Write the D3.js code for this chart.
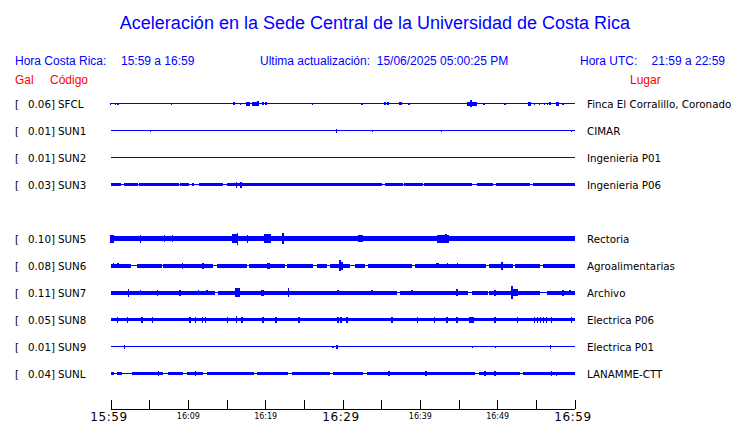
<!DOCTYPE html>
<html><head><meta charset="utf-8">
<script src="https://cdn.jsdelivr.net/npm/d3@7"></script>
<style>
html,body{margin:0;padding:0;background:#fff;}
svg{display:block;}
text{white-space:pre;}
</style></head>
<body>
<svg id="c" width="740" height="423"></svg>
<script>
// ---------------- DATA ----------------
const titleText = "Aceleración en la Sede Central de la Universidad de Costa Rica";
const localLabel = "Hora Costa Rica:";
const localRange = "15:59 a 16:59";
const updateText = "Ultima actualización:  15/06/2025 05:00:25 PM";
const utcLabel = "Hora UTC:";
const utcRange = "21:59 a 22:59";

// row slots (SUN4 has no trace)
const slots = ["SFCL","SUN1","SUN2","SUN3","SUN4","SUN5","SUN6","SUN7","SUN8","SUN9","SUNL"];
const codes = ["SFCL","SUN1","SUN2","SUN3","SUN5","SUN6","SUN7","SUN8","SUN9","SUNL"];
const peakGal = ["0.06","0.01","0.01","0.03","0.10","0.08","0.11","0.05","0.01","0.04"];
const places = ["Finca El Corralillo, Coronado","CIMAR","Ingenieria P01","Ingenieria P06","Rectoria","Agroalimentarias","Archivo","Electrica P06","Electrica P01","LANAMME-CTT"];

// background noise half-amplitude (Gal) per station
const noiseGal = [0, 0, 0, 0.023, 0.042, 0.03, 0.03, 0.027, 0, 0.025];

// quiet intervals [startMin, endMin] (minutes after 15:59)
const quietSFCL = [], quietSUN1 = [], quietSUN2 = [];
const quietSUN3 = [[1.4,1.8],[3.5,3.7],[8.8,9.0],[10.1,10.6],[10.8,11.5],[14.6,15.0],[35.1,35.5],[37.8,38.0],[40.4,40.5],[46.8,47.4],[49.4,49.9],[54.2,54.6]];
const quietSUN5 = [];
const quietSUN6 = [[2.7,3.4],[6.7,6.8],[13.2,13.8],[17.7,17.9],[22.6,22.8],[26.2,26.7],[28.0,28.4],[31.0,31.6],[32.9,33.3],[39.0,39.4],[48.6,49.0],[52.0,52.3],[55.5,55.9]];
const quietSUN7 = [[13.5,13.9],[37.0,37.4],[46.2,46.7],[48.8,49.0],[55.5,56.4]];
const quietSUN8 = [];
const quietSUN9 = [];
const quietSUNL = [[0.4,0.8],[1.5,2.8],[6.8,7.4],[9.4,9.9],[11.9,12.5],[18.5,19.0],[23.0,23.5],[28.4,28.8],[32.6,33.2],[47.1,47.7],[52.9,53.3]];

// bursts/spikes [minute, peak half-amplitude (Gal), duration (min)]
const burstSFCL = [[0,0.02,0],[0.65,0.02,0],[1.0,0.02,0],[7.9,0.015,0],[16.0,0.027,0.3],[16.8,0.02,0],[17.8,0.03,0.6],[18.7,0.035,0.7],[19.1,0.045,0],[19.7,0.025,0],[20.1,0.025,0],[26.1,0.015,0],[32.5,0.015,0],[35.5,0.025,0],[35.9,0.025,0],[37.5,0.025,0.3],[38.6,0.015,0],[46.6,0.06,0],[46.7,0.035,1.3],[48.3,0.015,0],[51.0,0.02,0],[54.2,0.03,0.3],[54.8,0.02,0],[55.5,0.02,0],[56.1,0.02,0],[56.5,0.02,0],[56.8,0.025,0.2],[57.8,0.03,0.3],[58.5,0.015,0]];
const burstSUN1 = [[5.2,0.015,0],[29.2,0.035,0],[33.9,0.015,0],[42.8,0.015,0],[59.6,0.02,0]];
const burstSUN2 = [];
const burstSUN3 = [[16.3,0.05,0],[16.9,0.05,0]];
const burstSUN5 = [[0.2,0.065,0.6],[3.9,0.07,0.2],[7.0,0.055,0.2],[8.0,0.055,0.2],[16.1,0.08,0.9],[16.4,0.1,0.2],[17.7,0.07,0.2],[20.3,0.08,0.8],[22.3,0.09,0.3],[32.3,0.055,0.6],[43.0,0.065,1.5],[43.4,0.08,0.2]];
const burstSUN6 = [[0.4,0.045,0.2],[1.0,0.04,0],[9.3,0.05,0],[12.0,0.05,0.3],[20.4,0.05,0.4],[29.7,0.09,0.25],[29.9,0.065,0.4],[42.3,0.04,0.3],[43.6,0.04,0],[44.9,0.04,0],[50.6,0.065,0.3]];
const burstSUN7 = [[2.3,0.065,0],[3.9,0.045,0],[6.1,0.05,0.2],[9.0,0.05,0],[11.4,0.045,0],[12.5,0.045,0],[16.4,0.075,0.6],[19.6,0.05,0.4],[23.0,0.08,0],[29.4,0.045,0],[33.8,0.04,0],[39.0,0.045,0],[44.8,0.055,0.3],[49.7,0.05,0],[51.9,0.11,0],[52.4,0.055,0.6],[58.5,0.05,0],[59.4,0.045,0]];
const burstSUN8 = [[0.9,0.05,0],[2.2,0.05,0],[4.1,0.05,0],[5.4,0.05,0],[10.3,0.05,0],[11.0,0.05,0],[11.9,0.05,0],[12.3,0.05,0],[15.1,0.05,0],[16.3,0.06,0],[17.0,0.05,0],[19.7,0.05,0],[21.4,0.05,0],[24.4,0.05,0],[29.4,0.05,0],[29.8,0.05,0],[30.6,0.05,0],[36.4,0.05,0],[39.7,0.05,0],[41.9,0.05,0],[43.5,0.05,0],[44.8,0.05,0],[46.7,0.05,0.6],[49.7,0.05,0],[52.6,0.05,0],[54.8,0.05,0],[55.2,0.05,0],[55.6,0.05,0],[56.0,0.05,0],[56.4,0.05,0],[57.0,0.05,0],[59.6,0.05,0]];
const burstSUN9 = [[1.8,0.035,0],[28.8,0.02,0],[29.3,0.035,0],[46.8,0.02,0],[49.8,0.02,0],[56.9,0.03,0]];
const burstSUNL = [[6.2,0.045,0],[11.0,0.045,0],[36.0,0.04,0],[40.8,0.04,0],[48.4,0.04,0],[49.7,0.04,0],[57.0,0.04,0],[57.7,0.035,0]];

const quietLists = [quietSFCL,quietSUN1,quietSUN2,quietSUN3,quietSUN5,quietSUN6,quietSUN7,quietSUN8,quietSUN9,quietSUNL];
const burstLists = [burstSFCL,burstSUN1,burstSUN2,burstSUN3,burstSUN5,burstSUN6,burstSUN7,burstSUN8,burstSUN9,burstSUNL];

// axis
const startTime = new Date(2025,5,15,15,59);
const endTime = new Date(2025,5,15,16,59);
const majorTickMinutes = [0,10,20,30,40,50,60];
const majorTickLabels = ["15:59","16:09","16:19","16:29","16:39","16:49","16:59"];
const bigTickLabels = ["15:59","16:29","16:59"];
const minorTickMinutes = [5,15,25,35,45,55];

// ---------------- DRAW ----------------
const blue = "#0000ff", red = "#ff0000";
const svg = d3.select("#c");
const atMin = m => new Date(startTime.getTime() + m*60000);

const x = d3.scaleTime().domain([startTime, endTime]).range([110.5, 574.5]);
const y = d3.scalePoint().domain(slots).range([103.5, 373.5]);
const amp = d3.scaleLinear().domain([0, 0.11]).range([0, 6.5]);

// header
svg.append("text").attr("x",375).attr("y",29).attr("text-anchor","middle")
  .attr("font-family","Liberation Sans, Arial, sans-serif").attr("font-size",18)
  .attr("fill",blue).text(titleText);
const hdr = (t,xx,yy,col,anchor) => svg.append("text").attr("x",xx).attr("y",yy)
  .attr("text-anchor",anchor||"start").attr("font-family","Liberation Sans, Arial, sans-serif")
  .attr("font-size",12).attr("fill",col).text(t);
hdr(localLabel,15,65,blue);
hdr(localRange,121,65,blue);
hdr(updateText,260,65,blue);
hdr(utcLabel,580,65,blue);
hdr(utcRange,725,65,blue,"end");
hdr("Gal",15,84,red);
hdr("Código",50,84,red);
hdr("Lugar",630,84,red);

// traces
const traces = svg.append("g").attr("shape-rendering","crispEdges");
codes.forEach((code,i) => {
  const yc = y(code);
  const g = traces.append("g");
  g.append("rect").attr("x",x(startTime)).attr("y",yc-0.5)
    .attr("width",x(endTime)-x(startTime)).attr("height",1).attr("fill",blue);
  if (noiseGal[i] > 0) {
    const q = quietLists[i].slice().sort((a,b)=>a[0]-b[0]);
    const segs = []; let s = 0;
    q.forEach(([a,b]) => { if (a > s) segs.push([s,a]); s = Math.max(s,b); });
    if (s < 60) segs.push([s,60]);
    const h = Math.max(1, Math.round(amp(noiseGal[i])*2));
    g.selectAll("rect.band").data(segs).join("rect").attr("class","band")
      .attr("x",d=>x(atMin(d[0]))).attr("width",d=>Math.max(1,x(atMin(d[1]))-x(atMin(d[0]))))
      .attr("y",yc-h/2).attr("height",h).attr("fill",blue);
  }
  g.selectAll("rect.burst").data(burstLists[i]).join("rect").attr("class","burst")
    .attr("x",d=>{const w=Math.max(1.5,x(atMin(d[2]))-x(startTime)); return x(atMin(d[0]))-w/2;})
    .attr("width",d=>Math.max(1.5,x(atMin(d[2]))-x(startTime)))
    .attr("y",d=>yc-Math.max(1,Math.round(amp(d[1])*2))/2)
    .attr("height",d=>Math.max(1,Math.round(amp(d[1])*2)))
    .attr("fill",blue);
  const tg = svg.append("g").attr("font-family","DejaVu Sans, sans-serif").attr("font-size",10.3).attr("fill","#000");
  tg.append("text").attr("x",15).attr("y",yc+4).text("[");
  tg.append("text").attr("x",55).attr("y",yc+4).attr("text-anchor","end").text(peakGal[i]+"]");
  tg.append("text").attr("x",58).attr("y",yc+4).text(code);
  tg.append("text").attr("x",587).attr("y",yc+4).text(places[i]);
});

// axis
const axisY = 409;
const allTicks = majorTickMinutes.concat(minorTickMinutes).sort((a,b)=>a-b).map(atMin);
const axis = d3.axisBottom(x).tickValues(allTicks).tickSizeInner(-9).tickSizeOuter(0)
  .tickFormat(d => { const k = majorTickMinutes.findIndex(m => +atMin(m) === +d); return k>=0 ? majorTickLabels[k] : ""; });
const ag = svg.append("g").attr("transform",`translate(0,${axisY})`).call(axis);
ag.select(".domain").attr("stroke","#000").attr("shape-rendering","crispEdges");
ag.selectAll(".tick line").attr("stroke","#000").attr("shape-rendering","crispEdges");
ag.selectAll(".tick text").attr("fill","#000").attr("font-family","DejaVu Sans, sans-serif")
  .attr("dy",null)
  .each(function(){
    const t = d3.select(this); const big = bigTickLabels.includes(t.text());
    t.attr("font-size", big ? 12 : 8).attr("y", big ? 12.3 : 9.5)
     .attr("letter-spacing", big ? 0.6 : 0).attr("dx", big ? -2 : 0);
  });
</script>
</body></html>
